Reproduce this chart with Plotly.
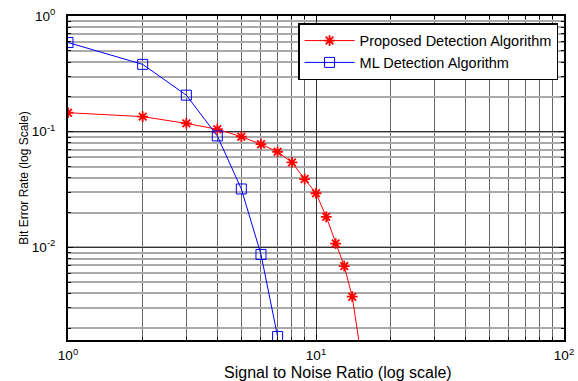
import plotly.graph_objects as go

snr_ml = [1, 2, 3, 4, 5, 6, 7]
ber_ml = [0.59, 0.382, 0.207, 0.092, 0.032, 0.0087, 0.0017]

snr_prop = [1, 2, 3, 4, 5, 6, 7, 8, 9, 10, 11, 12, 13, 14, 15]
ber_prop = [0.146, 0.135, 0.118, 0.105, 0.0906, 0.078, 0.067, 0.0543, 0.039,
            0.0294, 0.0184, 0.0108, 0.0069, 0.00375, 0.0014]

x_tickvals = [1, 10, 100]
x_ticktext = ["10<sup>0</sup>", "10<sup>1</sup>", "10<sup>2</sup>"]
y_tickvals = [1, 0.1, 0.01]
y_ticktext = ["10<sup>0</sup>", "10<sup>-1</sup>", "10<sup>-2</sup>"]

FONT = "Liberation Sans, Arial, sans-serif"

fig = go.Figure()
fig.add_trace(go.Scatter(
    x=snr_prop, y=ber_prop, mode="lines+markers",
    name="Proposed Detection Algorithm",
    line=dict(color="#ff0000", width=1),
    marker=dict(symbol="asterisk-open", size=9, color="#ff0000",
                line=dict(color="#ff0000", width=1.8)),
))
fig.add_trace(go.Scatter(
    x=snr_ml, y=ber_ml, mode="lines+markers",
    name="ML Detection Algorithm",
    line=dict(color="#0000ff", width=1),
    marker=dict(symbol="square-open", size=10, color="#0000ff",
                line=dict(color="#0000ff", width=1)),
))

axis_common = dict(
    type="log", automargin=False,
    showline=True, linecolor="black", linewidth=2, mirror="ticks",
    ticks="inside", ticklen=5, tickcolor="black",
    showgrid=True, gridcolor="#333333", gridwidth=1,
    zeroline=False,
    tickfont=dict(family=FONT, size=13.5, color="black"),
)

fig.update_xaxes(
    **axis_common,
    range=[0, 2],
    tickvals=x_tickvals, ticktext=x_ticktext,
    ticklabelstandoff=2,
    minor=dict(dtick="D1", showgrid=True, gridcolor="#666666", gridwidth=1,
               ticks="inside", ticklen=3, tickcolor="black"),
)
fig.update_yaxes(
    **axis_common,
    range=[-2.8, 0],
    tickvals=y_tickvals, ticktext=y_ticktext,
    ticklabelstandoff=8,
    minor=dict(dtick="D1", showgrid=True, gridcolor="#aaaaaa", gridwidth=1.8,
               ticks="inside", ticklen=3, tickcolor="black"),
    title=dict(text="Bit Error Rate (log Scale)",
               font=dict(family=FONT, size=12, color="black"), standoff=1),
)

fig.add_annotation(
    text="Signal to Noise Ratio (log scale)",
    xref="paper", yref="paper", x=0.544, y=-0.101,
    xanchor="center", yanchor="middle", showarrow=False,
    font=dict(family=FONT, size=16, color="black"),
)

fig.update_layout(
    width=578, height=381,
    margin=dict(l=68, r=14, t=16, b=41),
    paper_bgcolor="white", plot_bgcolor="white",
    font=dict(family=FONT, color="black"),
    showlegend=True,
    legend=dict(
        x=0.988, y=0.978, xanchor="right", yanchor="top",
        bgcolor="white", bordercolor="black", borderwidth=1.5,
        font=dict(family=FONT, size=14.5, color="black"),
        tracegroupgap=0, itemwidth=50,
    ),
)

fig.write_html("out.html", config={"displayModeBar": False},
               post_script="document.body.style.margin='0';")
